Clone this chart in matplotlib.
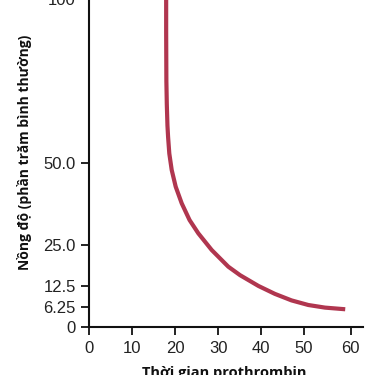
import matplotlib
matplotlib.use("Agg")
import matplotlib.pyplot as plt

plt.rcParams["font.family"] = ["Liberation Sans", "DejaVu Sans"]

# Data
time_s = [17.9, 17.9, 17.95, 18.05, 18.2, 18.35, 18.63, 19.19, 20.12, 21.52,
          23.35, 25.38, 28.5, 32.37, 35.1, 39.4, 43.2, 47.1, 51.0, 54.9, 59.6]
conc_pct = [110, 90, 75, 68, 61.5, 58, 53.0, 47.96, 42.87, 37.8,
            32.7, 28.66, 23.57, 18.48, 15.9, 12.6, 10.2, 8.2, 6.8, 6.0, 5.5]

y_ticks = [0, 6.25, 12.5, 25, 50, 100]
y_tick_labels = ["0", "6.25", "12.5", "25.0", "50.0", "100"]
x_ticks = [0, 10, 20, 30, 40, 50, 60.9]
x_tick_labels = ["0", "10", "20", "30", "40", "50", "60"]

W, H = 378, 375
fig = plt.figure(figsize=(W / 100, H / 100), dpi=100)
left_px, bottom_px = 89.3, 327.3
xpx_per_unit, ypx_per_unit = 4.294, 3.28
xmax, ymax = 63.7, 115
ax = fig.add_axes([left_px / W, (H - bottom_px) / H,
                   xmax * xpx_per_unit / W, ymax * ypx_per_unit / H])

ax.plot(time_s, conc_pct, color="#b0364f", lw=3, solid_capstyle="butt",
        solid_joinstyle="round")

ax.set_xlim(0, xmax)
ax.set_ylim(0, ymax)
ax.set_xticks(x_ticks)
ax.set_xticklabels(x_tick_labels)
ax.set_yticks(y_ticks)
ax.set_yticklabels(y_tick_labels)

for s in ["top", "right"]:
    ax.spines[s].set_visible(False)
for s in ["left", "bottom"]:
    ax.spines[s].set_linewidth(1.5)
    ax.spines[s].set_color("#111111")

ax.tick_params(axis="both", direction="out", length=5.5, width=1.3,
               color="#111111", labelsize=12, labelcolor="#222222", pad=4.3)

fig.text(25 / W, 1 - 152 / H, "Nồng độ (phần trăm bình thường)", rotation=90,
         ha="center", va="center", fontsize=10, fontweight="bold",
         family=["Open Sans", "DejaVu Sans"], color="#111111")
fig.text(224 / W, 1 - 377 / H, "Thời gian prothrombin", ha="center",
         va="baseline", fontsize=10.5, fontweight="bold",
         family=["Open Sans", "DejaVu Sans"], color="#111111")

fig.savefig("out.png", dpi=100)
